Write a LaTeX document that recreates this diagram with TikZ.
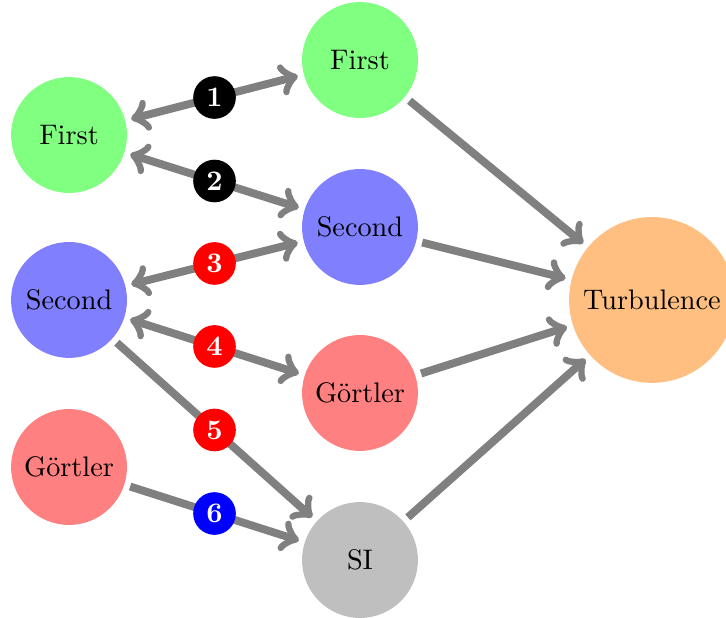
\documentclass[tikz,border=0pt]{standalone}
\begin{document}
\begin{tikzpicture}
    \tikzstyle{vertex}=[circle,minimum size=1.44cm,inner sep=0pt]
    \tikzstyle{badge}=[circle,text=white,font=\bfseries,minimum size=0.53cm,inner sep=0pt]
    \tikzstyle{link}=[draw=gray,line width=2.8pt,shorten >=2pt,shorten <=2pt]
    \useasboundingbox (0,0) rectangle (9.023,-7.68);

    \foreach \name/\y/\col/\txt in {LF/-1.678/green/First, LS/-3.728/blue/Second, LG/-5.804/red/Görtler}
            \node[vertex,fill=\col!50] (\name) at (0.858,\y) {\txt};
    \foreach \name/\y/\col/\txt in {MF/-0.746/green/First, MS/-2.821/blue/Second, MG/-4.884/red/Görtler, SI/-6.960/gray/SI}
            \node[vertex,fill=\col!50] (\name) at (4.474,\y) {\txt};
    \node[circle,fill=orange!50,minimum size=2.06cm,inner sep=0pt] (T) at (8.103,-3.728) {Turbulence};

        \foreach \from/\to/\num/\col in {LF/MF/1/black, LF/MS/2/black, LS/MS/3/red, LS/MG/4/red}
            \draw[link,<->] (\from) -- node[badge,fill=\col] (N-\num) {\num} (\to);
        \foreach \from/\to/\num/\col in {LS/SI/5/red, LG/SI/6/blue}
            \draw[link,->] (\from) -- node[badge,fill=\col] (N-\num) {\num} (\to);

        \foreach \from in {MF, MS, MG, SI}
            \draw[link,->] (\from) -- (T);
\end{tikzpicture}
\end{document}
